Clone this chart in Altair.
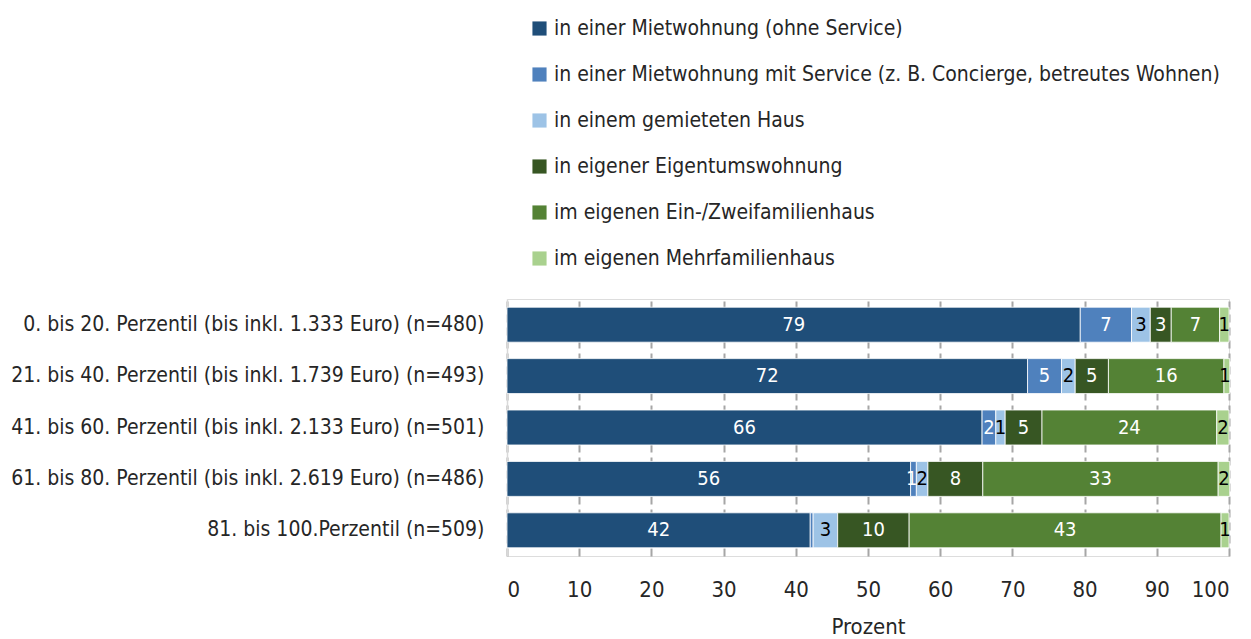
import altair as alt
import pandas as pd

groups = [
    "0. bis 20. Perzentil (bis inkl. 1.333 Euro) (n=480)",
    "21. bis 40. Perzentil (bis inkl. 1.739 Euro) (n=493)",
    "41. bis 60. Perzentil (bis inkl. 2.133 Euro) (n=501)",
    "61. bis 80. Perzentil (bis inkl. 2.619 Euro) (n=486)",
    "81. bis 100.Perzentil (n=509)",
]
categories = [
    "in einer Mietwohnung (ohne Service)",
    "in einer Mietwohnung mit Service (z. B. Concierge, betreutes Wohnen)",
    "in einem gemieteten Haus",
    "in eigener Eigentumswohnung",
    "im eigenen Ein-/Zweifamilienhaus",
    "im eigenen Mehrfamilienhaus",
]
colors = ["#1F4E79", "#4F81BD", "#9DC3E6", "#375623", "#548235", "#A9D18E"]
text_colors = ["white", "white", "black", "white", "white", "black"]

# values per category (one per group)
miet_ohne = [79.4, 72.1, 65.8, 55.9, 42.0]
miet_service = [7.1, 4.7, 1.9, 0.8, 0.4]
gemietet_haus = [2.6, 1.9, 1.3, 1.6, 3.4]
eigentum = [2.9, 4.6, 5.1, 7.6, 9.9]
ein_zwei = [6.7, 16.0, 24.2, 32.6, 43.2]
mehr = [1.3, 0.8, 1.7, 1.6, 1.1]
series = [miet_ohne, miet_service, gemietet_haus, eigentum, ein_zwei, mehr]

rows = []
for ci, (cat, vals) in enumerate(zip(categories, series)):
    for gi, g in enumerate(groups):
        v = vals[gi]
        rows.append({
            "group": g,
            "cat": cat,
            "order": ci,
            "value": v,
            "label": str(int(round(v))) if round(v) >= 1 else "",
            "tcolor": text_colors[ci],
        })
df = pd.DataFrame(rows)

FONT = "'DejaVu Sans Condensed', 'Roboto Condensed', Roboto, 'Liberation Sans', sans-serif"
TXT = "#262626"

base = alt.Chart(df).transform_stack(
    stack="value", groupby=["group"], as_=["x0", "x1"],
    sort=[alt.SortField("order", "ascending")]
).transform_calculate(mid="(datum.x0 + datum.x1) / 2")

yenc = alt.Y("group:N", sort=groups, title=None,
             scale=alt.Scale(paddingInner=0.32, paddingOuter=0.16),
             axis=alt.Axis(domain=True, domainColor="#D9D9D9", domainWidth=1.5,
                           ticks=False, labelFontSize=21,
                           labelColor=TXT, labelPadding=23, labelFont=FONT,
                           labelLimit=600))

bars = base.mark_bar(stroke="white", strokeWidth=0.8).encode(
    x=alt.X("x0:Q", scale=alt.Scale(domain=[0, 100], nice=False),
            title="Prozent",
            axis=alt.Axis(values=list(range(0, 101, 10)), grid=True,
                          gridColor="#A6A6A6", gridDash=[8, 5], gridWidth=2,
                          domain=False, ticks=False,
                          labelFontSize=22, labelFont=FONT, labelColor=TXT,
                          labelPadding=23, titleFontSize=22, titleFont=FONT,
                          titleFontWeight="normal", titleColor=TXT,
                          titlePadding=16)),
    x2="x1:Q",
    y=yenc,
    color=alt.Color("cat:N", sort=categories,
                    scale=alt.Scale(domain=categories, range=colors),
                    legend=alt.Legend(title=None, orient="none", legendX=22,
                                      legendY=-281, direction="vertical",
                                      symbolType="square", symbolSize=200,
                                      symbolStrokeWidth=0, labelFontSize=21,
                                      labelFont=FONT, labelColor=TXT,
                                      rowPadding=24, labelOffset=4,
                                      labelLimit=800)),
)

texts_wide = base.transform_filter("datum.value >= 1").mark_text(
    fontSize=20, font=FONT, baseline="middle", align="center").encode(
    x="mid:Q",
    y=alt.Y("group:N", sort=groups),
    text="label:N",
    color=alt.Color("tcolor:N", scale=None),
)

texts_narrow = base.transform_filter("datum.value < 1").mark_text(
    fontSize=20, font=FONT, baseline="middle", align="right", dx=1).encode(
    x="x1:Q",
    y=alt.Y("group:N", sort=groups),
    text="label:N",
    color=alt.Color("tcolor:N", scale=None),
)

chart = (bars + texts_wide + texts_narrow).properties(
    width=722, height=257,
    autosize=alt.AutoSizeParams(type="none"),
    padding={"left": 499, "top": 291, "right": 6, "bottom": 83},
).configure_view(stroke=None).configure(background="white")

chart.save("out.html", embed_options={"renderer": "svg", "actions": False})
